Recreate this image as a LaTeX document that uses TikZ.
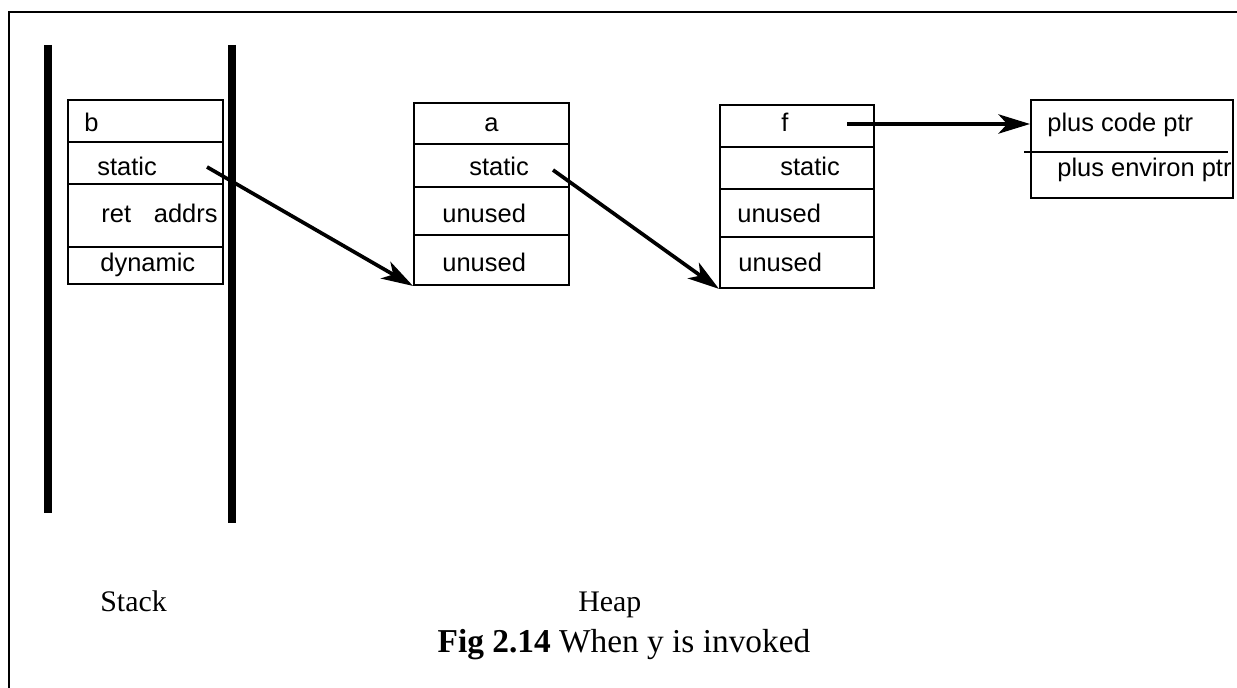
\documentclass[tikz,border=0pt]{standalone}
\usepackage{fontspec}
\setmainfont{Liberation Serif}
\setsansfont{Liberation Sans}
\usetikzlibrary{arrows.meta}

\tikzset{
  frm/.style={draw,line width=1.1pt,rectangle,inner sep=0pt,anchor=north west},
  txt/.style={font=\sffamily\fontsize{14.5}{16}\selectfont,inner sep=0pt,anchor=base west},
  lbl/.style={font=\fontsize{17}{20}\selectfont,inner sep=0pt,anchor=base west},
  ptr/.style={line width=2.1pt,-{Stealth[length=18pt,width=11pt,inset=5pt]}},
  bar/.style={line width=4.5pt}
}

\begin{document}
\begin{tikzpicture}[x=0.02cm,y=-0.02cm]
  \useasboundingbox (0,0) rectangle (1237,688);
  % page frame (cut at right and bottom)
  \draw[line width=1.2pt] (9,688) -- (9,12) -- (1237,12);

  % stack
  \draw[bar] (48,45) -- (48,513);
  \draw[bar] (232,45) -- (232,523);

  \node[frm,minimum width=155*0.02cm,minimum height=184*0.02cm] (sb) at (67,99) {};
  \draw[line width=1.1pt] (67,142) -- (222,142);
  \draw[line width=1.1pt] (67,184) -- (222,184);
  \draw[line width=1.1pt] (67,247) -- (222,247);
  \node[txt] (sb1) at (84,132) {b};
  \node[txt] (sb2) at (97,176) {static};
  \node[txt] (sb3) at (101,223) {ret\hspace{13pt}addrs};
  \node[txt] (sb4) at (100,272) {dynamic};

  % heap frame a
  \node[frm,minimum width=155*0.02cm,minimum height=182*0.02cm] (fa) at (413,102) {};
  \draw[line width=1.1pt] (413,144) -- (568,144);
  \draw[line width=1.1pt] (413,187) -- (568,187);
  \draw[line width=1.1pt] (413,235) -- (568,235);
  \node[txt] (fa1) at (484,132) {a};
  \node[txt] (fa2) at (469,176) {static};
  \node[txt] (fa3) at (442,223) {unused};
  \node[txt] (fa4) at (442,272) {unused};

  % heap frame f
  \node[frm,minimum width=154*0.02cm,minimum height=183*0.02cm] (ff) at (719,104) {};
  \draw[line width=1.1pt] (719,147) -- (873,147);
  \draw[line width=1.1pt] (719,189) -- (873,189);
  \draw[line width=1.1pt] (719,237) -- (873,237);
  \node[txt] (ff1) at (781,132) {f};
  \node[txt] (ff2) at (780,176) {static};
  \node[txt] (ff3) at (737,223) {unused};
  \node[txt] (ff4) at (738,272) {unused};

  % closure
  \node[frm,minimum width=202*0.02cm,minimum height=98*0.02cm] (cl) at (1030,99) {};
  \draw[line width=1.1pt] (1024,152) -- (1228,152);
  \node[txt] (cl1) at (1047,132) {plus code ptr};
  \begin{scope}
    \clip (1030,150) rectangle (1231,197);
    \node[txt] (cl2) at (1057,177) {plus environ ptr};
  \end{scope}

  % pointers
  \coordinate (p1) at (207,167);
  \coordinate (p2) at (553,170);
  \coordinate (p3) at (847,124);
  \draw[ptr] (p1) -- (fa.south west);
  \draw[ptr] (p2) -- (ff.south west);
  \draw[ptr] (p3) -- (cl.west |- p3);

  % labels
  \node[lbl] (stk) at (100,612) {Stack};
  \node[lbl] (hp) at (578,612) {Heap};
  \node[font=\fontsize{19}{22}\selectfont,inner sep=0pt,anchor=base] (cap) at (624,652)
    {\textbf{Fig 2.14} When y is invoked};
\end{tikzpicture}
\end{document}
